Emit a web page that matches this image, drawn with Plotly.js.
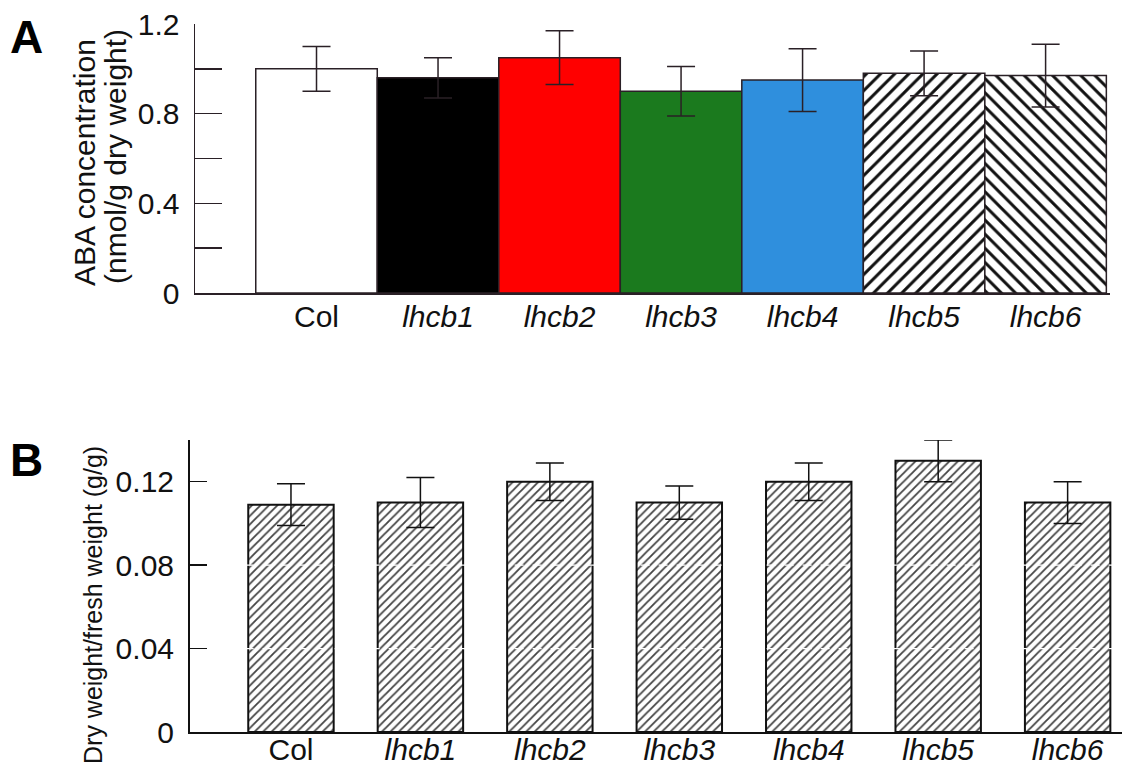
<!DOCTYPE html>
<html>
<head>
<meta charset="utf-8">
<script src="https://cdn.plot.ly/plotly-3.0.1.min.js"></script>
<style>html,body{margin:0;padding:0;background:#fff;}#chart{width:1128px;height:769px;}</style>
</head>
<body>
<div id="chart"></div>
<script>
const categories = ["Col", "lhcb1", "lhcb2", "lhcb3", "lhcb4", "lhcb5", "lhcb6"];
const tickLabels = ["Col", "<i>lhcb1</i>", "<i>lhcb2</i>", "<i>lhcb3</i>", "<i>lhcb4</i>", "<i>lhcb5</i>", "<i>lhcb6</i>"];

// Panel A: ABA concentration (nmol/g dry weight)
const abaValues   = [1.00, 0.96, 1.05, 0.90, 0.95, 0.98, 0.97];
const abaErrPlus  = [0.10, 0.09, 0.12, 0.11, 0.14, 0.10, 0.14];
const abaErrMinus = [0.10, 0.09, 0.12, 0.11, 0.14, 0.10, 0.14];
const abaColors   = ["#ffffff", "#000000", "#ff0000", "#1b7a1e", "#2f8fdd"];
const abaPatterns = ["/", "\\"];

// Panel B: dry weight / fresh weight (g/g)
const dwValues   = [0.109, 0.110, 0.120, 0.110, 0.120, 0.130, 0.110];
const dwErrPlus  = [0.010, 0.012, 0.009, 0.008, 0.009, 0.010, 0.010];
const dwErrMinus = [0.010, 0.012, 0.009, 0.008, 0.009, 0.010, 0.010];

const ink = "#2a2026";
const font = "Liberation Sans, Arial, sans-serif";
const W = 1128, H = 769;

const xIdx = categories.map((c, i) => i);
const solidIdx = xIdx.slice(0, 5);
const hatchIdx = xIdx.slice(5);

const errA = (idx) => ({
  type: "data", symmetric: false,
  array: idx.map(i => abaErrPlus[i]), arrayminus: idx.map(i => abaErrMinus[i]),
  color: ink, thickness: 1.5, width: 14
});

const traceA1 = {
  type: "bar", x: solidIdx, y: solidIdx.map(i => abaValues[i]), xaxis: "x", yaxis: "y",
  width: 1,
  marker: {color: abaColors, line: {color: ink, width: 1.5}},
  error_y: errA(solidIdx),
  hoverinfo: "none", showlegend: false
};
const hatchTrace = (k) => ({
  type: "bar", x: [hatchIdx[k]], y: [abaValues[hatchIdx[k]]], xaxis: "x", yaxis: "y",
  width: 1,
  marker: {color: "#ffffff", line: {color: ink, width: 1.5},
           pattern: {shape: abaPatterns[k], fgcolor: "#111111", bgcolor: "#ffffff", size: 10, solidity: 0.3}},
  error_y: errA([hatchIdx[k]]),
  hoverinfo: "none", showlegend: false
});

const traceB = {
  type: "bar", x: xIdx, y: dwValues, xaxis: "x2", yaxis: "y2",
  width: 0.66,
  marker: {
    color: "#ffffff",
    line: {color: "#111111", width: 2},
    pattern: {shape: "/", fgcolor: "#444444", bgcolor: "#ffffff", size: 6, solidity: 0.3}
  },
  error_y: {type: "data", array: dwErrPlus, arrayminus: dwErrMinus, symmetric: false, color: "#111111", thickness: 1.5, width: 14},
  hoverinfo: "none", showlegend: false
};

const tickFont = {size: 30, family: font, color: "#111111"};

const layout = {
  width: W, height: H,
  margin: {l: 0, r: 0, t: 0, b: 0},
  barmode: "overlay",
  paper_bgcolor: "#ffffff", plot_bgcolor: "rgba(0,0,0,0)",
  font: {family: font, color: "#111111"},
  xaxis: {
    domain: [195 / W, 1110 / W], range: [-1.0, 6.53],
    tickvals: xIdx, ticktext: tickLabels,
    showline: true, linecolor: ink, linewidth: 1.5,
    ticks: "", showgrid: false, zeroline: false,
    tickfont: tickFont, ticklabelstandoff: -4, fixedrange: true
  },
  yaxis: {
    domain: [1 - 293 / H, 1 - 24 / H], range: [0, 1.2],
    tickvals: [0, 0.2, 0.4, 0.6, 0.8, 1.0, 1.2],
    ticktext: ["0", "", "0.4", "", "0.8", "", "1.2"],
    ticks: "inside", ticklen: 27, tickcolor: ink, tickwidth: 1.5,
    showline: true, linecolor: ink, linewidth: 1.5,
    showgrid: false, zeroline: false,
    tickfont: tickFont, ticklabelstandoff: 8, fixedrange: true
  },
  xaxis2: {
    domain: [190 / W, 1122 / W], range: [-0.78, 6.42],
    tickvals: xIdx, ticktext: tickLabels,
    showline: true, linecolor: "#111111", linewidth: 2,
    ticks: "", showgrid: false, zeroline: false,
    tickfont: tickFont, ticklabelstandoff: -10, anchor: "y2", fixedrange: true
  },
  yaxis2: {
    domain: [1 - 732 / H, 1 - 440 / H], range: [0, 0.14],
    tickvals: [0, 0.04, 0.08, 0.12],
    ticktext: ["0", "0.04", "0.08", "0.12"],
    ticks: "inside", ticklen: 17, tickcolor: "#111111", tickwidth: 1.5,
    showline: true, linecolor: "#111111", linewidth: 2,
    showgrid: false, zeroline: false,
    tickfont: tickFont, ticklabelstandoff: 8, anchor: "x2", fixedrange: true
  },
  shapes: [0.04, 0.08].map(v => ({
    type: "line", xref: "x2 domain", yref: "y2", x0: 0.02, x1: 1, y0: v, y1: v,
    line: {color: "#ffffff", width: 1.2, dash: "dash"}, layer: "above"
  })),
  annotations: [
    {text: "<b>A</b>", xref: "paper", yref: "paper", x: 8 / W, y: 1 - 37 / H, xanchor: "left", yanchor: "middle", showarrow: false, font: {size: 46, family: font, color: "#000000"}},
    {text: "<b>B</b>", xref: "paper", yref: "paper", x: 8 / W, y: 1 - 460 / H, xanchor: "left", yanchor: "middle", showarrow: false, font: {size: 46, family: font, color: "#000000"}},
    {text: "ABA concentration", xref: "paper", yref: "paper", x: 84 / W, y: 1 - 163 / H, xanchor: "center", yanchor: "middle", textangle: -90, showarrow: false, font: {size: 30, family: font, color: "#111111"}},
    {text: "(nmol/g dry weight)", xref: "paper", yref: "paper", x: 116 / W, y: 1 - 157 / H, xanchor: "center", yanchor: "middle", textangle: -90, showarrow: false, font: {size: 30, family: font, color: "#111111"}},
    {text: "Dry weight/fresh weight (g/g)", xref: "paper", yref: "paper", x: 93 / W, y: 1 - 605 / H, xanchor: "center", yanchor: "middle", textangle: -90, showarrow: false, font: {size: 25, family: font, color: "#111111"}}
  ]
};

Plotly.newPlot("chart", [traceA1, hatchTrace(0), hatchTrace(1), traceB], layout, {displayModeBar: false, staticPlot: true});
</script>
</body>
</html>
